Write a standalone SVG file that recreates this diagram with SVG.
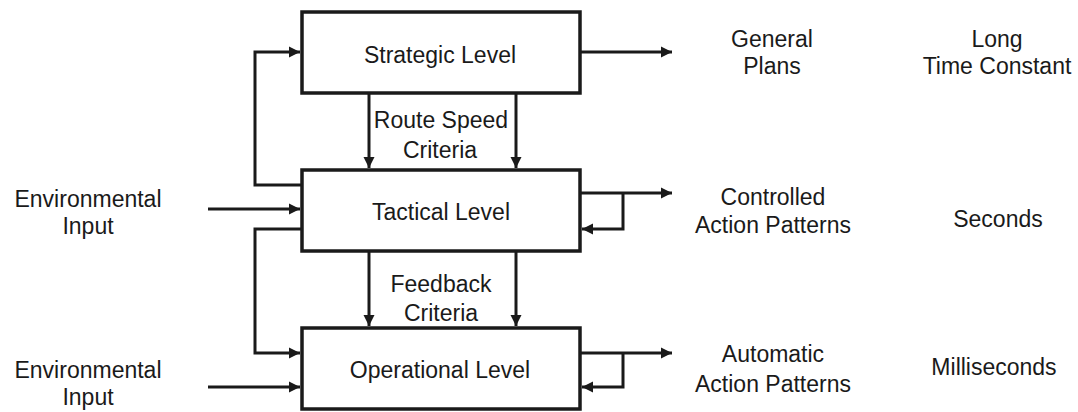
<svg xmlns="http://www.w3.org/2000/svg" width="1078" height="412" viewBox="0 0 1078 412">
<style>
.box{fill:#fff;stroke:#1a1a1a;stroke-width:3.5}
.ln{fill:none;stroke:#1a1a1a;stroke-width:3;marker-end:url(#ah)}
.ln0{fill:none;stroke:#1a1a1a;stroke-width:3}
text{font-family:"Liberation Sans",Arial,sans-serif;font-size:23px;fill:#1a1a1a;text-anchor:middle}
</style>
<defs>
<marker id="ah" markerWidth="12" markerHeight="12" viewBox="0 0 12 12" refX="11" refY="6" orient="auto" markerUnits="userSpaceOnUse">
<path d="M0,0.5 L11,6 L0,11.5 z" fill="#1a1a1a"/>
</marker>
</defs>
<g id="connectors">
<path class="ln" d="M302,185 H255 V52 H300"/>
<path class="ln" d="M302,229 H255 V353 H300"/>
<path class="ln" d="M208,209 H300"/>
<path class="ln" d="M208,387 H300"/>
<path class="ln" d="M369,93 V168"/>
<path class="ln" d="M516,93 V168"/>
<path class="ln" d="M369,251 V326"/>
<path class="ln" d="M516,251 V326"/>
<path class="ln" d="M580,52 H672"/>
<path class="ln" d="M580,193 H672"/>
<path class="ln" d="M623,193 V229 H582"/>
<path class="ln" d="M580,353 H672"/>
<path class="ln" d="M623,353 V387 H582"/>
</g>
<g id="strategic">
<rect class="box" x="302" y="12" width="278" height="81"/>
<text x="440" y="63">Strategic Level</text>
</g>
<g id="tactical">
<rect class="box" x="302" y="170" width="278" height="81"/>
<text x="441" y="220">Tactical Level</text>
</g>
<g id="operational">
<rect class="box" x="302" y="328" width="278" height="81"/>
<text x="440" y="378">Operational Level</text>
</g>
<g id="labels">
<text x="441" y="128">Route Speed</text>
<text x="440" y="158">Criteria</text>
<text x="441" y="292">Feedback</text>
<text x="441" y="321">Criteria</text>
<text x="88" y="207">Environmental</text>
<text x="88" y="234">Input</text>
<text x="88" y="378">Environmental</text>
<text x="88" y="405">Input</text>
<text x="772" y="47">General</text>
<text x="772" y="74">Plans</text>
<text x="997" y="47">Long</text>
<text x="997" y="74">Time Constant</text>
<text x="773" y="205">Controlled</text>
<text x="773" y="233">Action Patterns</text>
<text x="998" y="227">Seconds</text>
<text x="773" y="362">Automatic</text>
<text x="773" y="392">Action Patterns</text>
<text x="994" y="375">Milliseconds</text>
</g>
</svg>
